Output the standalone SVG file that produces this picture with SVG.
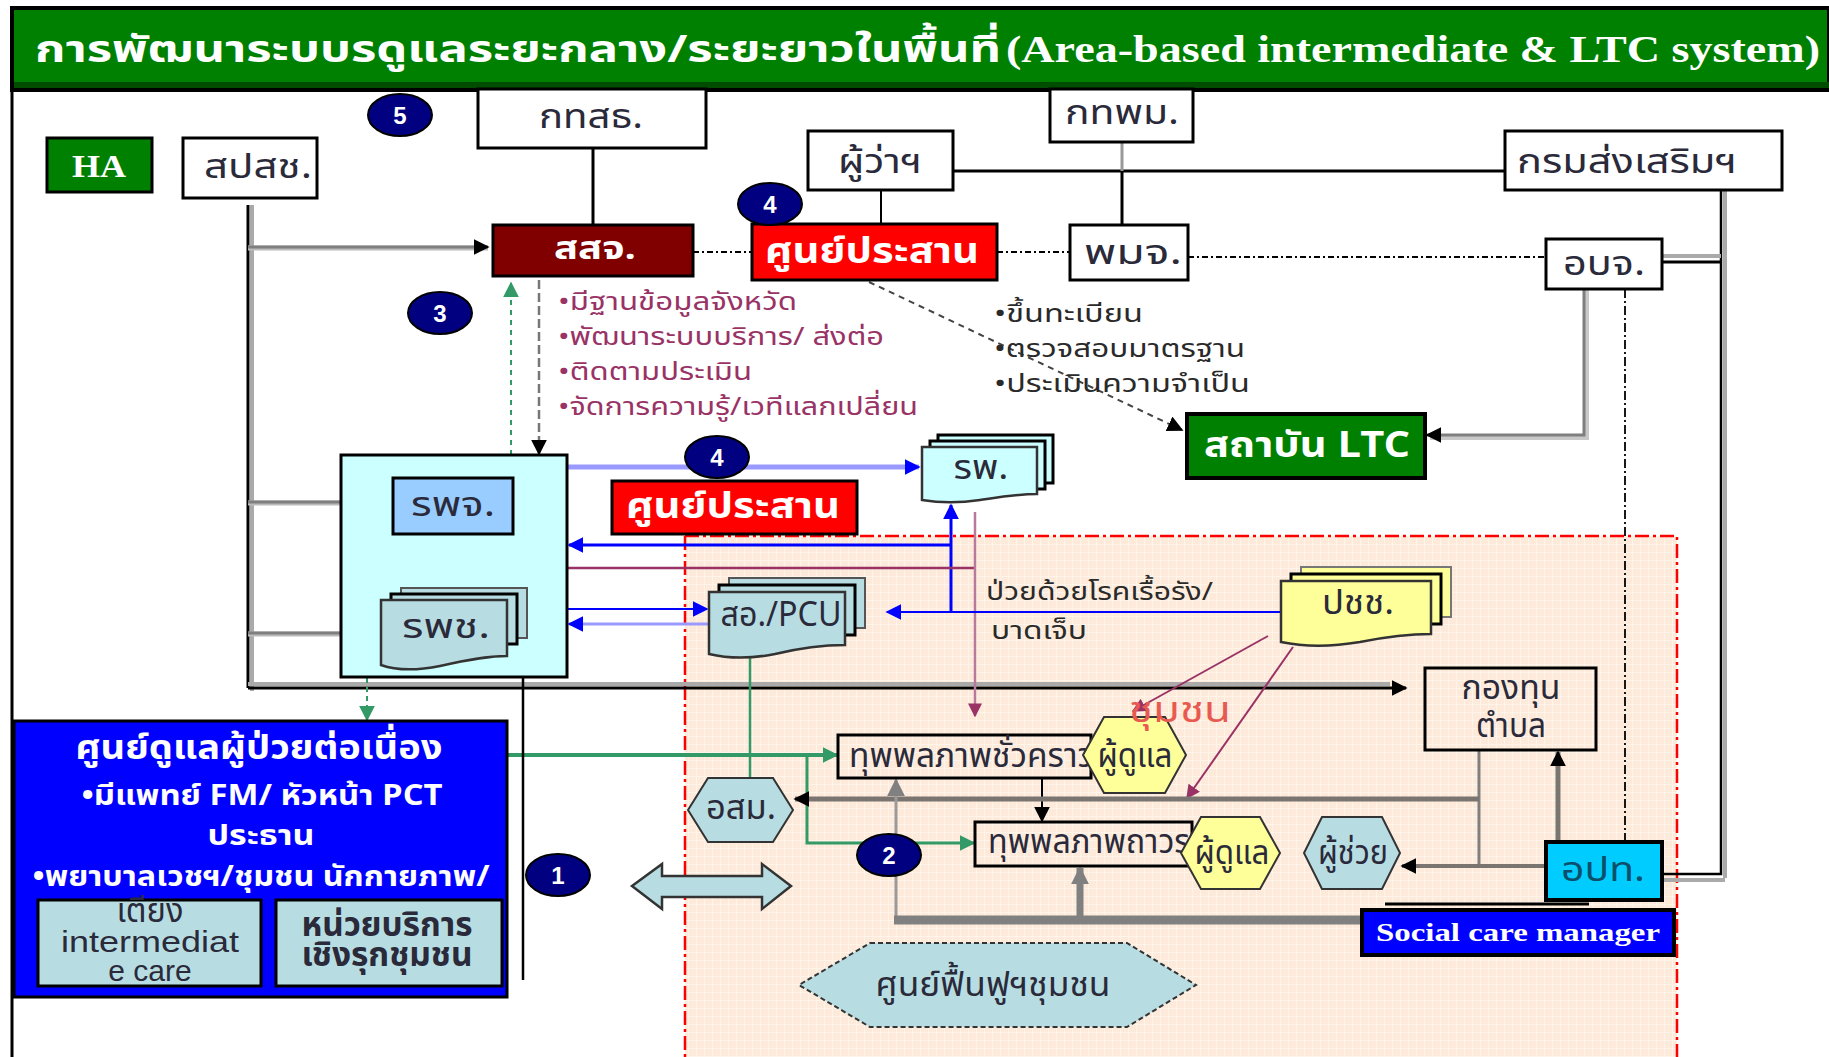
<svg xmlns="http://www.w3.org/2000/svg" width="1829" height="1057" viewBox="0 0 1829 1057">
<style>
.th{font-family:"Noto Sans Thai","Noto Sans","DejaVu Sans",sans-serif;}
.lbl{font-family:"Noto Sans Thai","Noto Sans","DejaVu Sans",sans-serif;font-size:34px;fill:#2a2a3a;text-anchor:middle;}
.wb{font-family:"Noto Sans Thai","Noto Sans","DejaVu Sans",sans-serif;font-weight:bold;fill:#fff;text-anchor:middle;}
.box{fill:#fff;stroke:#000;stroke-width:3;}
.num{fill:#000080;stroke:#000;stroke-width:2;}
.numt{font-family:"Liberation Sans",Arial,sans-serif;font-weight:bold;font-size:24px;fill:#fff;text-anchor:middle;}
.gl{stroke:#7f7f7f;fill:none;}
.bl{stroke:#000;fill:none;}
.list1{font-family:"Noto Sans Thai","Noto Sans","DejaVu Sans",sans-serif;font-size:25px;fill:#993366;}
.list2{font-family:"Noto Sans Thai","Noto Sans","DejaVu Sans",sans-serif;font-size:25px;fill:#2a2a2a;}
</style>
<defs>
<marker id="aB" viewBox="0 0 10 10" refX="9" refY="5" markerWidth="16" markerHeight="16" markerUnits="userSpaceOnUse" orient="auto"><path d="M0,0L10,5L0,10z" fill="#000"/></marker>
<marker id="aBl" viewBox="0 0 10 10" refX="9" refY="5" markerWidth="16" markerHeight="16" markerUnits="userSpaceOnUse" orient="auto"><path d="M0,0L10,5L0,10z" fill="#0000ff"/></marker>
<marker id="aP" viewBox="0 0 10 10" refX="9" refY="5" markerWidth="14" markerHeight="14" markerUnits="userSpaceOnUse" orient="auto"><path d="M0,0L10,5L0,10z" fill="#993366"/></marker>
<marker id="aG" viewBox="0 0 10 10" refX="9" refY="5" markerWidth="16" markerHeight="16" markerUnits="userSpaceOnUse" orient="auto"><path d="M0,0L10,5L0,10z" fill="#339966"/></marker>
<marker id="aGr" viewBox="0 0 10 10" refX="9" refY="5" markerWidth="18" markerHeight="18" markerUnits="userSpaceOnUse" orient="auto"><path d="M0,0L10,5L0,10z" fill="#808080"/></marker>
<pattern id="grid" width="8" height="8" patternUnits="userSpaceOnUse"><rect width="8" height="8" fill="#fdeadb"/><path d="M0,0.5H8M0.5,0V8" stroke="#fff4ea" stroke-width="1"/></pattern>
</defs>

<rect width="1829" height="1057" fill="#fff"/>

<g id="community-zone">
<rect x="685" y="536" width="992" height="530" fill="url(#grid)"/>
<path d="M685,536V1057M685,536H1677V1057" fill="none" stroke="#ff0000" stroke-width="2.5" stroke-dasharray="14,4,3,4"/>
</g>

<g id="title">
<rect x="12" y="8" width="1817" height="82" fill="#008000" stroke="#000" stroke-width="4"/>
<rect x="14" y="82" width="1815" height="6" fill="#004d00"/>
<text class="th" x="35" y="62" font-size="38" font-weight="bold" fill="#fff" textLength="966" lengthAdjust="spacingAndGlyphs">การพัฒนาระบบรดูแลระยะกลาง/ระยะยาวในพื้นที่</text>
<text x="1006" y="62" font-family="Liberation Serif,serif" font-size="38" font-weight="bold" fill="#fff" textLength="814" lengthAdjust="spacingAndGlyphs">(Area-based intermediate &amp; LTC system)</text>
</g>
<line x1="12" y1="90" x2="12" y2="1057" stroke="#000" stroke-width="3"/>

<g id="connectors">
<line class="bl" x1="593" y1="148" x2="593" y2="225" stroke-width="3"/>
<line class="bl" x1="881" y1="190" x2="881" y2="224" stroke-width="2"/>
<line class="bl" x1="953" y1="171" x2="1505" y2="171" stroke-width="3"/>
<line x1="1122" y1="142" x2="1122" y2="171" stroke="#999" stroke-width="3"/>
<line class="bl" x1="1122" y1="171" x2="1122" y2="225" stroke-width="3"/>
<path class="bl" d="M693,252H752M997,252H1070" stroke-width="2" stroke-dasharray="6,3,2,3"/>
<line class="bl" x1="1188" y1="257" x2="1546" y2="257" stroke-width="1.8" stroke-dasharray="6,3,2,3"/>
<line x1="1725" y1="190" x2="1725" y2="878" stroke="#aaa" stroke-width="4"/>
<path class="bl" d="M1721,190V874H1662" stroke-width="2.5"/>
<line x1="1662" y1="880" x2="1725" y2="880" stroke="#aaa" stroke-width="4"/>
<line x1="1662" y1="256" x2="1721" y2="256" stroke="#aaa" stroke-width="4"/>
<line class="bl" x1="1662" y1="262" x2="1721" y2="262" stroke-width="3"/>
<path d="M1587,289V438H1430" fill="none" stroke="#c8c8c8" stroke-width="4"/>
<path class="gl" d="M1584,289V435H1427" stroke-width="3" marker-end="url(#aB)"/>
<line class="bl" x1="1625" y1="289" x2="1625" y2="842" stroke-width="1.8" stroke-dasharray="9,3,2,3"/>
<line x1="869" y1="282" x2="1182" y2="430" stroke="#444" stroke-width="2" stroke-dasharray="6,5" marker-end="url(#aB)"/>
<line x1="252" y1="205" x2="252" y2="691" stroke="#aaa" stroke-width="4"/>
<line class="bl" x1="248" y1="205" x2="248" y2="688" stroke-width="3"/>
<line x1="248" y1="248" x2="488" y2="248" stroke="#bbb" stroke-width="5"/>
<line class="gl" x1="248" y1="247" x2="488" y2="247" stroke-width="3" marker-end="url(#aB)"/>
<line x1="248" y1="503" x2="379" y2="503" stroke="#bbb" stroke-width="5"/>
<line class="gl" x1="248" y1="502" x2="379" y2="502" stroke-width="3" marker-end="url(#aB)"/>
<line x1="248" y1="634" x2="367" y2="634" stroke="#bbb" stroke-width="5"/>
<line class="gl" x1="248" y1="633" x2="367" y2="633" stroke-width="3" marker-end="url(#aB)"/>
<line x1="248" y1="684" x2="1390" y2="684" stroke="#aaa" stroke-width="4"/>
<line class="bl" x1="248" y1="688" x2="1406" y2="688" stroke-width="3" marker-end="url(#aB)"/>
<line x1="511" y1="455" x2="511" y2="283" stroke="#339966" stroke-width="2" stroke-dasharray="5,5" marker-end="url(#aG)"/>
<line x1="539" y1="280" x2="539" y2="454" stroke="#777" stroke-width="2.5" stroke-dasharray="9,4" marker-end="url(#aB)"/>
<line x1="367" y1="678" x2="367" y2="720" stroke="#339966" stroke-width="2" stroke-dasharray="5,4" marker-end="url(#aG)"/>
<line x1="420" y1="590" x2="420" y2="536" stroke="#3333ff" stroke-width="2" marker-end="url(#aBl)"/>
<line x1="458" y1="535" x2="458" y2="588" stroke="#3333ff" stroke-width="2" marker-end="url(#aBl)"/>
<line x1="567" y1="467" x2="919" y2="467" stroke="#9999ff" stroke-width="5" marker-end="url(#aBl)"/>
<line x1="951" y1="612" x2="951" y2="505" stroke="#0000ff" stroke-width="3" marker-end="url(#aBl)"/>
<line x1="951" y1="545" x2="569" y2="545" stroke="#0000ff" stroke-width="3" marker-end="url(#aBl)"/>
<line x1="567" y1="568" x2="975" y2="568" stroke="#993366" stroke-width="2.5"/>
<line x1="975" y1="512" x2="975" y2="716" stroke="#b8799c" stroke-width="2.5" marker-end="url(#aP)"/>
<line x1="567" y1="609" x2="707" y2="609" stroke="#0000ff" stroke-width="2" marker-end="url(#aBl)"/>
<line x1="709" y1="624" x2="569" y2="624" stroke="#9999ff" stroke-width="3" marker-end="url(#aBl)"/>
<line x1="1281" y1="612" x2="887" y2="612" stroke="#0000ff" stroke-width="2" marker-end="url(#aBl)"/>
<line x1="750" y1="650" x2="750" y2="778" stroke="#339966" stroke-width="2.5"/>
<line x1="507" y1="755" x2="837" y2="755" stroke="#339966" stroke-width="4" marker-end="url(#aG)"/>
<path d="M807,755V843H974" fill="none" stroke="#339966" stroke-width="3" marker-end="url(#aG)"/>
<line x1="1268" y1="636" x2="1133" y2="711" stroke="#993366" stroke-width="2" marker-end="url(#aP)"/>
<line x1="1293" y1="647" x2="1187" y2="798" stroke="#993366" stroke-width="2" marker-end="url(#aP)"/>
<line class="bl" x1="523" y1="677" x2="523" y2="980" stroke-width="2.5"/>
<line class="bl" x1="1042" y1="778" x2="1042" y2="821" stroke-width="2" marker-end="url(#aB)"/>
<line class="gl" x1="1479" y1="750" x2="1479" y2="866" stroke-width="3"/>
<line x1="1479" y1="799" x2="795" y2="799" stroke="#7a7570" stroke-width="5" marker-end="url(#aB)"/>
<line x1="1546" y1="866" x2="1402" y2="866" stroke="#7a7570" stroke-width="4" marker-end="url(#aB)"/>
<line x1="1558" y1="842" x2="1558" y2="752" stroke="#7a7570" stroke-width="5" marker-end="url(#aB)"/>
<line x1="896" y1="920" x2="896" y2="780" stroke="#9a9a9a" stroke-width="3" marker-end="url(#aGr)"/>
<line x1="894" y1="920" x2="1362" y2="920" stroke="#808080" stroke-width="9"/>
<line x1="1080" y1="920" x2="1080" y2="868" stroke="#808080" stroke-width="7" marker-end="url(#aGr)"/>
<line class="bl" x1="1385" y1="904" x2="1589" y2="904" stroke-width="3"/>
</g>

<g id="HA"><rect x="47" y="138" width="105" height="54" fill="#008000" stroke="#000" stroke-width="3"/><text x="99" y="177" font-family="Liberation Serif,serif" font-weight="bold" font-size="32" fill="#fff" text-anchor="middle" textLength="54" lengthAdjust="spacingAndGlyphs">HA</text></g>
<g id="spsch"><rect class="box" x="183" y="138" width="134" height="60"/><text class="lbl" x="258" y="178" textLength="108" lengthAdjust="spacingAndGlyphs">สปสช.</text></g>
<g id="kthsth"><rect class="box" x="478" y="89" width="228" height="59"/><text class="lbl" x="591" y="128" textLength="104" lengthAdjust="spacingAndGlyphs">กทสธ.</text></g>
<g id="governor"><rect class="box" x="808" y="131" width="145" height="59"/><text class="lbl" x="880" y="173" textLength="84" lengthAdjust="spacingAndGlyphs">ผู้ว่าฯ</text></g>
<g id="kthpm"><rect class="box" x="1050" y="89" width="143" height="53"/><text class="lbl" x="1122" y="124" textLength="114" lengthAdjust="spacingAndGlyphs">กทพม.</text></g>
<g id="dept"><rect class="box" x="1505" y="131" width="277" height="59"/><text class="lbl" x="1627" y="173" textLength="220" lengthAdjust="spacingAndGlyphs">กรมส่งเสริมฯ</text></g>
<g id="ssj"><rect x="493" y="225" width="200" height="51" fill="#800000" stroke="#000" stroke-width="3"/><text class="wb" x="595" y="259" font-size="32" textLength="82" lengthAdjust="spacingAndGlyphs">สสจ.</text></g>
<g id="coord-top"><rect x="752" y="224" width="245" height="56" fill="#ff0000" stroke="#000" stroke-width="3"/><text class="wb" x="872" y="263" font-size="36" textLength="214" lengthAdjust="spacingAndGlyphs">ศูนย์ประสาน</text></g>
<g id="pmj"><rect class="box" x="1070" y="225" width="118" height="55"/><text class="lbl" x="1133" y="264" textLength="98" lengthAdjust="spacingAndGlyphs">พมจ.</text></g>
<g id="obj"><rect class="box" x="1546" y="239" width="116" height="50"/><text class="lbl" x="1604" y="275" textLength="82" lengthAdjust="spacingAndGlyphs">อบจ.</text></g>
<g id="ltc"><rect x="1187" y="414" width="238" height="64" fill="#008000" stroke="#000" stroke-width="4"/><text class="wb" x="1307" y="457" font-size="36" textLength="206" lengthAdjust="spacingAndGlyphs">สถาบัน LTC</text></g>

<g id="list-ssj">
<text class="list1" x="558" y="310" textLength="239" lengthAdjust="spacingAndGlyphs">•มีฐานข้อมูลจังหวัด</text>
<text class="list1" x="558" y="345" textLength="326" lengthAdjust="spacingAndGlyphs">•พัฒนาระบบบริการ/ ส่งต่อ</text>
<text class="list1" x="558" y="380" textLength="194" lengthAdjust="spacingAndGlyphs">•ติดตามประเมิน</text>
<text class="list1" x="558" y="415" textLength="360" lengthAdjust="spacingAndGlyphs">•จัดการความรู้/เวทีแลกเปลี่ยน</text>
</g>
<g id="list-ltc">
<text class="list2" x="994" y="322" textLength="149" lengthAdjust="spacingAndGlyphs">•ขึ้นทะเบียน</text>
<text class="list2" x="994" y="357" textLength="251" lengthAdjust="spacingAndGlyphs">•ตรวจสอบมาตรฐาน</text>
<text class="list2" x="994" y="392" textLength="256" lengthAdjust="spacingAndGlyphs">•ประเมินความจำเป็น</text>
</g>

<g id="hospital-group">
<rect x="341" y="455" width="226" height="222" fill="#ccffff" stroke="#000" stroke-width="3"/>
</g>
<g id="rpj"><rect x="393" y="478" width="120" height="56" fill="#99ccff" stroke="#000" stroke-width="3"/><text class="lbl" x="453" y="516" textLength="84" lengthAdjust="spacingAndGlyphs">รพจ.</text></g>
<g id="rpch">
<rect x="401" y="588" width="126" height="50" fill="#b7dde3" stroke="#555" stroke-width="2"/>
<rect x="391" y="594" width="126" height="50" fill="#b7dde3" stroke="#000" stroke-width="3"/>
<path d="M381,600H507V656C487,656 467,660 440,666C415,671 395,670 381,665Z" fill="#b7dde3" stroke="#333" stroke-width="2.5"/>
<text class="lbl" x="446" y="638" textLength="88" lengthAdjust="spacingAndGlyphs">รพช.</text>
</g>
<g id="coord-mid"><rect x="612" y="481" width="245" height="53" fill="#ff0000" stroke="#000" stroke-width="3"/><text class="wb" x="733" y="518" font-size="36" textLength="214" lengthAdjust="spacingAndGlyphs">ศูนย์ประสาน</text></g>
<g id="rp">
<rect x="938" y="435" width="115" height="48" fill="#ccffff" stroke="#000" stroke-width="3"/>
<rect x="930" y="441" width="115" height="48" fill="#ccffff" stroke="#000" stroke-width="3"/>
<path d="M922,447H1037V494C1017,494 1000,497 980,500C960,503 940,503 922,500Z" fill="#ccffff" stroke="#333" stroke-width="2.5"/>
<text class="lbl" x="981" y="479" textLength="55" lengthAdjust="spacingAndGlyphs">รพ.</text>
</g>
<g id="pcu">
<rect x="729" y="578" width="136" height="50" fill="#b7dde3" stroke="#555" stroke-width="2"/>
<rect x="719" y="585" width="136" height="50" fill="#b7dde3" stroke="#000" stroke-width="3"/>
<path d="M709,592H845V645C820,645 800,648 775,654C750,659 730,659 709,654Z" fill="#b7dde3" stroke="#333" stroke-width="2.5"/>
<text class="lbl" x="781" y="626" textLength="121" lengthAdjust="spacingAndGlyphs">สอ./PCU</text>
</g>
<g id="people">
<rect x="1301" y="567" width="150" height="50" fill="#ffff99" stroke="#777" stroke-width="2"/>
<rect x="1291" y="574" width="150" height="50" fill="#ffff99" stroke="#000" stroke-width="3"/>
<path d="M1281,581H1431V634C1405,634 1385,637 1360,642C1330,647 1305,647 1281,642Z" fill="#ffff99" stroke="#333" stroke-width="2.5"/>
<text class="lbl" x="1358" y="614" textLength="72" lengthAdjust="spacingAndGlyphs">ปชช.</text>
</g>
<g id="text-chronic">
<text class="list2" x="986" y="600" textLength="227" lengthAdjust="spacingAndGlyphs">ป่วยด้วยโรคเรื้อรัง/</text>
<text class="list2" x="991" y="639" textLength="96" lengthAdjust="spacingAndGlyphs">บาดเจ็บ</text>
</g>
<g id="fund"><rect x="1425" y="668" width="171" height="82" fill="none" stroke="#000" stroke-width="3"/><text class="lbl" x="1511" y="699" font-size="30" textLength="99" lengthAdjust="spacingAndGlyphs">กองทุน</text><text class="lbl" x="1511" y="737" font-size="30" textLength="70" lengthAdjust="spacingAndGlyphs">ตำบล</text></g>
<g id="temp-dis"><rect x="838" y="735" width="253" height="43" fill="none" stroke="#000" stroke-width="3"/><text class="lbl" x="849" y="767" style="text-anchor:start" textLength="245" lengthAdjust="spacingAndGlyphs">ทุพพลภาพชั่วคราว</text></g>
<g id="carer1"><polygon points="1104,717 1165,717 1186,755 1165,793 1104,793 1083,755" fill="#ffff99" stroke="#333" stroke-width="2"/><text class="lbl" x="1135" y="767" textLength="75" lengthAdjust="spacingAndGlyphs">ผู้ดูแล</text></g>
<text class="th" x="1129" y="722" font-size="36" fill="#e85a50" textLength="102" lengthAdjust="spacingAndGlyphs">ชุมชน</text>
<g id="perm-dis"><rect x="975" y="822" width="217" height="44" fill="none" stroke="#000" stroke-width="3"/><text class="lbl" x="988" y="853" style="text-anchor:start" textLength="202" lengthAdjust="spacingAndGlyphs">ทุพพลภาพถาวร</text></g>
<g id="carer2"><polygon points="1201,817 1260,817 1280,853 1260,889 1201,889 1181,853" fill="#ffff99" stroke="#333" stroke-width="2"/><text class="lbl" x="1232" y="864" textLength="75" lengthAdjust="spacingAndGlyphs">ผู้ดูแล</text></g>
<g id="helper"><polygon points="1322,817 1382,817 1400,853 1382,889 1322,889 1304,853" fill="#b7dde3" stroke="#333" stroke-width="2"/><text class="lbl" x="1353" y="864" textLength="70" lengthAdjust="spacingAndGlyphs">ผู้ช่วย</text></g>
<g id="opt"><rect x="1546" y="842" width="116" height="58" fill="#00ccff" stroke="#000" stroke-width="4"/><text class="lbl" x="1603" y="881" style="fill:#0b4f6a" textLength="84" lengthAdjust="spacingAndGlyphs">อปท.</text></g>
<g id="scm"><rect x="1362" y="910" width="312" height="45" fill="#0000ff" stroke="#000" stroke-width="4"/><text x="1518" y="941" font-family="Liberation Serif,serif" font-weight="bold" font-size="25" fill="#fff" text-anchor="middle" textLength="284" lengthAdjust="spacingAndGlyphs">Social care manager</text></g>
<g id="osm"><polygon points="708,778 773,778 793,810 773,842 708,842 688,810" fill="#b7dde3" stroke="#333" stroke-width="2"/><text class="lbl" x="741" y="819" textLength="70" lengthAdjust="spacingAndGlyphs">อสม.</text></g>
<g id="rehab"><polygon points="870,943 1127,943 1196,985 1127,1027 870,1027 799,985" fill="#b7dde3" stroke="#333" stroke-width="2" stroke-dasharray="5,3"/><text class="lbl" x="993" y="996" textLength="235" lengthAdjust="spacingAndGlyphs">ศูนย์ฟื้นฟูฯชุมชน</text></g>
<g id="dbl-arrow"><polygon points="632,886 662,864 662,876 762,876 762,864 791,886 762,909 762,897 662,897 662,909" fill="#b7dde3" stroke="#333" stroke-width="2.5"/></g>

<g id="continuing-care">
<rect x="14" y="721" width="493" height="276" fill="#0000ff" stroke="#000" stroke-width="3"/>
<text class="wb" x="259" y="759" font-size="34" textLength="367" lengthAdjust="spacingAndGlyphs">ศูนย์ดูแลผู้ป่วยต่อเนื่อง</text>
<text class="wb" x="262" y="805" font-size="28" textLength="361" lengthAdjust="spacingAndGlyphs">•มีแพทย์ FM/ หัวหน้า PCT</text>
<text class="wb" x="261" y="845" font-size="28" textLength="107" lengthAdjust="spacingAndGlyphs">ประธาน</text>
<text class="wb" x="261" y="886" font-size="28" textLength="457" lengthAdjust="spacingAndGlyphs">•พยาบาลเวชฯ/ชุมชน นักกายภาพ/</text>
<rect x="38" y="900" width="223" height="86" fill="#b7dde3" stroke="#000" stroke-width="3"/>
<text class="lbl" x="150" y="922" font-size="22" textLength="67" lengthAdjust="spacingAndGlyphs">เตียง</text>
<text x="150" y="952" font-family="Liberation Sans,Arial,sans-serif" font-size="30" fill="#2a2a3a" text-anchor="middle" textLength="178" lengthAdjust="spacingAndGlyphs">intermediat</text>
<text x="150" y="981" font-family="Liberation Sans,Arial,sans-serif" font-size="30" fill="#2a2a3a" text-anchor="middle">e care</text>
<rect x="276" y="900" width="226" height="86" fill="#b7dde3" stroke="#000" stroke-width="3"/>
<text class="lbl" x="387" y="936" font-size="23" font-weight="bold" textLength="171" lengthAdjust="spacingAndGlyphs">หน่วยบริการ</text>
<text class="lbl" x="387" y="966" font-size="23" font-weight="bold" textLength="171" lengthAdjust="spacingAndGlyphs">เชิงรุกชุมชน</text>
</g>

<g id="badges">
<ellipse class="num" cx="400" cy="115" rx="32" ry="21"/><text class="numt" x="400" y="124">5</text>
<ellipse class="num" cx="770" cy="204" rx="32" ry="21"/><text class="numt" x="770" y="213">4</text>
<ellipse class="num" cx="440" cy="313" rx="32" ry="21"/><text class="numt" x="440" y="322">3</text>
<ellipse class="num" cx="717" cy="457" rx="32" ry="21"/><text class="numt" x="717" y="466">4</text>
<ellipse class="num" cx="889" cy="855" rx="32" ry="21"/><text class="numt" x="889" y="864">2</text>
<ellipse class="num" cx="558" cy="875" rx="32" ry="21"/><text class="numt" x="558" y="884">1</text>
</g>
</svg>
